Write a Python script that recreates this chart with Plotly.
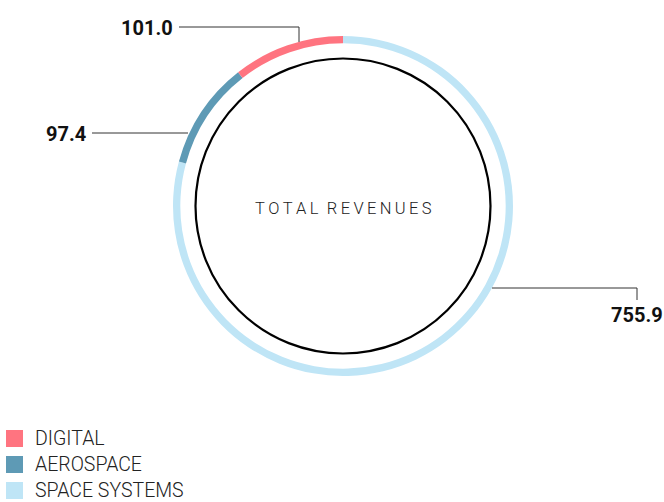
import plotly.graph_objects as go

categories = ["DIGITAL", "AEROSPACE", "SPACE SYSTEMS"]
values = [101.0, 97.4, 755.9]
colors = ["#FF7480", "#5E9AB5", "#BFE5F6"]
value_labels = ["101.0", "97.4", "755.9"]
center_label = "TOTAL REVENUES"

W, H = 664, 502
def px(x):
    return x / W
def py(y):
    return 1 - y / H

cx, cy, R = 343, 206, 170

fig = go.Figure()
# drawn clockwise from 12 o'clock in reverse order so DIGITAL sits just left of the top
fig.add_trace(go.Pie(
    labels=categories[::-1], values=values[::-1], hole=0.957, sort=False,
    direction="clockwise", rotation=0,
    marker=dict(colors=colors[::-1], line=dict(width=0)),
    textinfo="none", hoverinfo="label+value", showlegend=False,
    domain=dict(x=[px(cx - R), px(cx + R)], y=[py(cy + R), py(cy - R)]),
))

shapes = []
r2 = 147.5
shapes.append(dict(type="circle", xref="paper", yref="paper",
                   x0=px(cx - r2), x1=px(cx + r2), y0=py(cy + r2), y1=py(cy - r2),
                   line=dict(color="black", width=2.2)))
lc = dict(color="#333333", width=1)
def seg(x0, y0, x1, y1):
    shapes.append(dict(type="line", xref="paper", yref="paper",
                       x0=px(x0), y0=py(y0), x1=px(x1), y1=py(y1), line=lc))
seg(179, 27, 299, 27); seg(299, 27, 299, 42)
seg(92, 133, 188, 133)
seg(492, 288, 637, 288); seg(637, 288, 637, 300)

annotations = []
vfont = dict(family="Roboto", size=20, color="#111111", weight="bold")
annotations.append(dict(x=px(175), y=py(28), xref="paper", yref="paper", text=value_labels[0],
                        xanchor="right", yanchor="middle", showarrow=False, font=vfont))
annotations.append(dict(x=px(88), y=py(134), xref="paper", yref="paper", text=value_labels[1],
                        xanchor="right", yanchor="middle", showarrow=False, font=vfont))
annotations.append(dict(x=px(637), y=py(315), xref="paper", yref="paper", text=value_labels[2],
                        xanchor="center", yanchor="middle", showarrow=False, font=vfont))

spaced = "\u2009".join(list(center_label)).replace("\u2009 \u2009", "\u2002")
annotations.append(dict(x=px(cx), y=py(208), xref="paper", yref="paper", text=spaced,
                        xanchor="center", yanchor="middle", showarrow=False,
                        font=dict(family="Roboto", size=16.5, color="#222222", weight=300)))

for i, (cat, col) in enumerate(zip(categories, colors)):
    yc = 438.5 + i * 26
    shapes.append(dict(type="rect", xref="paper", yref="paper",
                       x0=px(6), x1=px(23), y0=py(yc + 8.5), y1=py(yc - 8.5),
                       fillcolor=col, line=dict(width=0)))
    annotations.append(dict(x=px(33), y=py(yc), xref="paper", yref="paper", text=cat,
                            xanchor="left", yanchor="middle", showarrow=False,
                            font=dict(family="Roboto", size=19.5, color="#222222", weight=300)))

fig.update_layout(width=W, height=H, margin=dict(l=0, r=0, t=0, b=0),
                  paper_bgcolor="white", plot_bgcolor="white",
                  shapes=shapes, annotations=annotations, showlegend=False)
fig.write_html("out.html", config={"displayModeBar": False},
               post_script="document.body.style.margin='0';document.body.style.overflow='hidden';")
